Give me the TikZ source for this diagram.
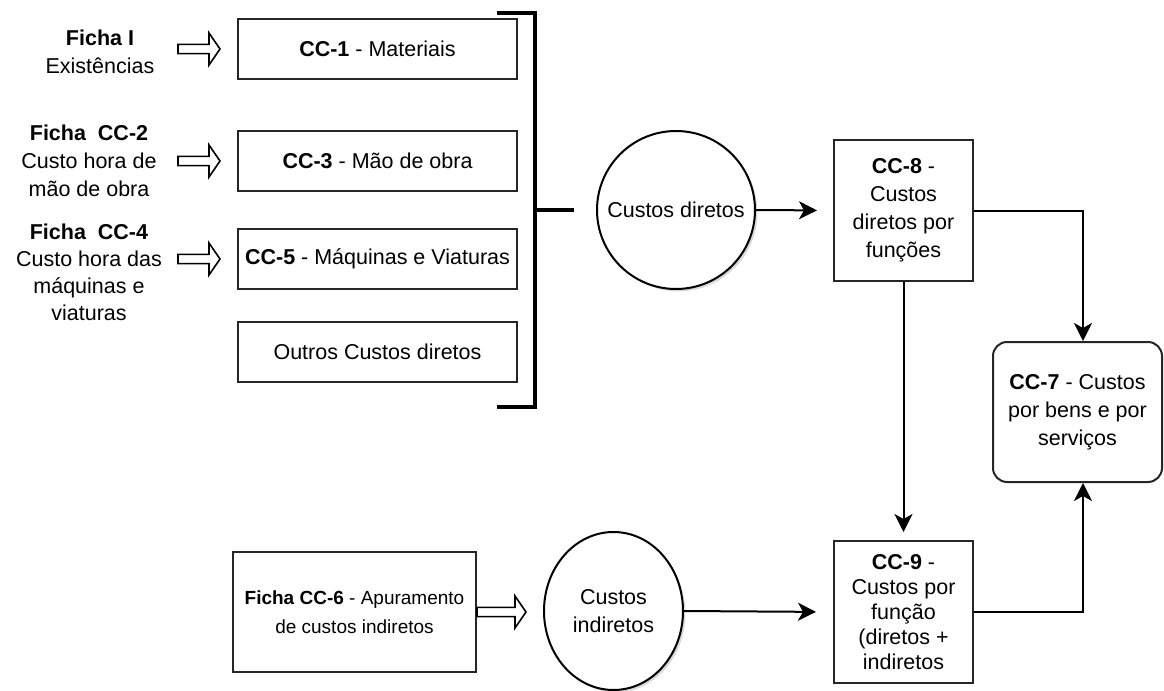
\documentclass[tikz,border=0pt]{standalone}
\usepackage{fontspec}
\setmainfont{Liberation Sans}
\usetikzlibrary{arrows.meta,calc,shapes.geometric,shadows}

\begin{document}
\begin{tikzpicture}[
  x=0.5pt, y=-0.5pt,
  every node/.style={font=\fontsize{10.75}{14}\selectfont},
  lbl/.style={align=center,inner sep=0pt},
  box/.style={draw=black!85,line width=1pt,minimum width=139.5pt,minimum height=30pt,align=center,inner sep=2pt},
  blob/.style={draw=black,line width=1pt,ellipse,fill=white,inner xsep=-9pt,inner ysep=0pt,align=center,
    drop shadow={shadow xshift=1.2pt,shadow yshift=-1.2pt,opacity=0.3}},
  arr/.style={-{Stealth[length=9pt,width=9pt,inset=2.5pt]},line width=1pt},
  hollow/.style={line width=0.8pt,to path={let \p1=(\tikztostart),\p2=(\tikztotarget) in
    (\x1,\y1+2.3pt) -- (\x2-14pt,\y1+2.3pt) -- (\x2-14pt,\y1+8pt) -- (\x2-8.5pt,\y1)
    -- (\x2-14pt,\y1-8pt) -- (\x2-14pt,\y1-2.3pt) -- (\x1,\y1-2.3pt) -- cycle}}
]
\useasboundingbox (0,0) rectangle (1164,691);

% fichas de entrada
\node[lbl] (fichaI) at (100,52) {\textbf{Ficha I}\\Existências};
\node[lbl] (ficha2) at (89,160.5) {\textbf{Ficha~ CC-2}\\Custo hora de\\mão de obra};
\node[lbl,font=\fontsize{10.75}{13.5}\selectfont] (ficha4) at (89,272.5) {\textbf{Ficha~ CC-4}\\Custo hora das\\máquinas e\\viaturas};

% custos diretos
\node[box] (cc1) at (377.5,49) {\textbf{CC-1} - Materiais};
\node[box] (cc3) at (377.5,161) {\textbf{CC-3} - Mão de obra};
\node[box] (cc5) at (377.5,259) {\textbf{CC-5} - Máquinas e Viaturas};
\node[box] (outros) at (377.5,352) {Outros Custos diretos};

\coordinate (h1) at (178,49);
\coordinate (h2) at (178,161);
\coordinate (h3) at (178,259);
\draw[hollow] (h1) to (cc1.west);
\draw[hollow] (h2) to (cc3.west);
\draw[hollow] (h3) to (cc5.west);

% chaveta
\coordinate (brk) at (574,210);
\draw[line width=1.7pt] (497,13) -- (535,13) -- (535,407) -- (497,407);
\draw[line width=1.7pt] (535,210) -- (brk);

\node[blob,minimum width=79pt,minimum height=79pt] (dir) at (676,210) {Custos diretos};
\node[box,minimum width=69.5pt,minimum height=70.5pt] (cc8) at (903.5,210.5) {\textbf{CC-8} -\\Custos\\diretos por\\funções};
\node[box,rounded corners=7pt,minimum width=84.5pt,minimum height=70pt] (cc7) at (1077.5,412) {\textbf{CC-7} - Custos\\por bens e por\\serviços};

% custos indiretos
\node[box,minimum width=121.5pt,minimum height=60pt,font=\fontsize{9.5}{14.5}\selectfont] (cc6) at (354.5,612) {\textbf{Ficha CC-6} - Apuramento\\de custos indiretos};
\node[blob,minimum width=69.5pt,minimum height=79pt] (ind) at (613.5,611) {Custos\\indiretos};
\node[box,minimum width=69.5pt,minimum height=71pt,font=\fontsize{10.75}{12.5}\selectfont] (cc9) at (903.5,612) {\textbf{CC-9} -\\Custos por\\função\\(diretos +\\indiretos};

\draw[hollow] (cc6.east) to (ind.west);

\draw[arr,shorten >=8pt] (dir.east) -- (cc8.west);
\draw[arr,shorten >=8.5pt] (ind.east) -- (cc9.west);
\draw[arr,shorten >=4pt] (cc8.south) -- (cc9.north);
\draw[arr] (cc8.east) -| ([xshift=2.75pt]cc7.north);
\draw[arr] (cc9.east) -| ([xshift=2.75pt]cc7.south);
\end{tikzpicture}
\end{document}
